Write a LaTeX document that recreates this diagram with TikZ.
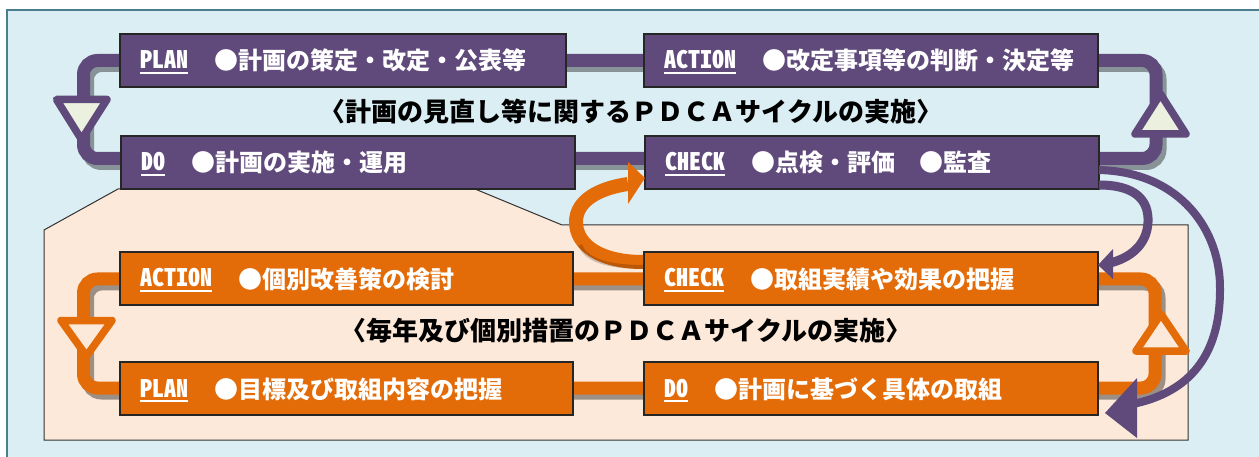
\documentclass[tikz,border=0pt]{standalone}
\usepackage{fontspec}
\newfontfamily\jp{Noto Sans CJK JP}
\newfontfamily\lbl{Noto Sans CJK JP}[RawFeature=+hwid]
\definecolor{pur}{HTML}{604A7B}
\definecolor{org}{HTML}{E36C09}
\definecolor{bluebg}{HTML}{DAEEF3}
\definecolor{peach}{HTML}{FDE9D9}
\definecolor{cream}{HTML}{EBF1DE}
\definecolor{framec}{HTML}{4A7D8E}
\tikzset{
  box/.style={draw=black!85, line width=1.2pt, minimum height=53pt, anchor=north west, inner sep=0pt, outer sep=0pt},
  pbox/.style={box, fill=pur},
  obox/.style={box, fill=org},
  lab/.style={anchor=base west, text=white, font=\lbl\bfseries\fontsize{24}{24}\selectfont, inner sep=0pt},
  txt/.style={anchor=base west, text=white, font=\jp\bfseries\fontsize{24}{24}\selectfont, inner sep=0pt},
  ttl/.style={text=black, font=\jp\bfseries\fontsize{26}{26}\selectfont, inner sep=0pt},
  loopline/.style={line width=13pt, rounded corners=14pt},
  shadowline/.style={line width=13pt, rounded corners=14pt, draw=black, draw opacity=0.38},
  tri/.style={line width=7.5pt, line join=round},
  arc/.style={line width=9pt},
}
\newcommand\pdcabox[7]{%
  \node[#2, minimum width=#5pt] (#1) at (#3,#4) {};
  \node[lab] (#1L) at ([xshift=20pt,yshift=-8.5pt]#1.west) {#6};
  \draw[white, line width=2pt] ([yshift=-4pt]#1L.base west) -- ([yshift=-4pt]#1L.base east);
  \node[txt] (#1T) at ([xshift=26pt,yshift=-1pt]#1L.base east) {#7};
}
\begin{document}
\begin{tikzpicture}[x=1pt,y=-1pt]
\useasboundingbox (0,0) rectangle (1259,457);
\clip (0,0) rectangle (1259,457);
\fill[white] (0,0) rectangle (1259,457);
% outer frame
\draw[fill=bluebg, draw=framec, line width=1.5pt] (7,10) rectangle (1270,470);
% lower area
\draw[fill=peach, draw=black!80, line width=1pt] (118,189) -- (475,189) -- (562,225) -- (1188,225) -- (1188,440) -- (44,440) -- (44,230) -- cycle;
% upper loop
\draw[shadowline] (87.5,65.5) rectangle (1160,163.5);
\draw[loopline, draw=pur] (83.5,60.5) rectangle (1156,158.5);
\draw[tri, draw=pur, fill=cream] (56.5,99.5) -- (107,99.5) -- (81.5,139.5) -- cycle;
\draw[tri, draw=pur, fill=cream] (1135,134) -- (1186,134) -- (1160.5,94) -- cycle;
% lower loop
\draw[shadowline] (87.5,284) rectangle (1159,393);
\draw[loopline, draw=org] (83.5,279) rectangle (1155,388);
\draw[tri, draw=org, fill=peach] (61,320.5) -- (112,320.5) -- (86.5,356) -- cycle;
\draw[tri, draw=org, fill=peach] (1136,351) -- (1186,351) -- (1161,314) -- cycle;
% boxes
\pdcabox{planT}{pbox}{120}{34}{446}{PLAN}{●計画の策定・改定・公表等}
\pdcabox{actT}{pbox}{644}{34}{454}{ACTION}{●改定事項等の判断・決定等}
\pdcabox{doT}{pbox}{121}{136}{454}{DO}{●計画の実施・運用}
\pdcabox{chkT}{pbox}{645}{136}{454}{CHECK}{●点検・評価　●監査}
\pdcabox{actB}{obox}{120}{252}{453}{ACTION}{●個別改善策の検討}
\pdcabox{chkB}{obox}{644}{252}{454}{CHECK}{●取組実績や効果の把握}
\pdcabox{planB}{obox}{120}{362}{453}{PLAN}{●目標及び取組内容の把握}
\pdcabox{doB}{obox}{644}{362}{454}{DO}{●計画に基づく具体の取組}
% titles
\node[ttl] (t1) at (631,112) {〈計画の見直し等に関するＰＤＣＡサイクルの実施〉};
\node[ttl] (t2) at (626,331) {〈毎年及び個別措置のＰＤＣＡサイクルの実施〉};
% orange feedback arrow: lower CHECK -> upper CHECK
\coordinate (ob) at (628,184);
\draw[line width=14pt, draw=org] ([xshift=-1pt]chkB.west |- 0,262) .. controls (600,262) and (576,245) .. (576,222) .. controls (576,200) and (600,188) .. (ob);
\draw[line width=4pt, draw=black, draw opacity=0.18] ([xshift=-1pt]chkB.west |- 0,267) .. controls (603,267) and (585,258) .. (580,245);
\fill[org] (628,162) -- (chkT.west |- 0,178) -- (628,204) -- cycle;
% purple arrow: upper CHECK -> lower CHECK
\coordinate (pi) at (1110,263);
\draw[arc, draw=pur] (chkT.east |- 0,185) .. controls (1135,185) and (1149,200) .. (1148,222) .. controls (1147,245) and (1130,258) .. (pi);
\fill[pur] (1113,249) -- (chkB.east |- 0,265) -- (1113,279) -- cycle;
% purple arrow: upper CHECK -> lower DO
\coordinate (po) at (1133,404);
\draw[line width=8pt, draw=pur] (chkT.east |- 0,170) .. controls (1180,172) and (1221,230) .. (1220,290) .. controls (1220,355) and (1190,392) .. (po);
\fill[pur] (1137,378) -- ([xshift=7pt]doB.east |- 0,413) -- (1137,438) -- cycle;
\end{tikzpicture}
\end{document}
